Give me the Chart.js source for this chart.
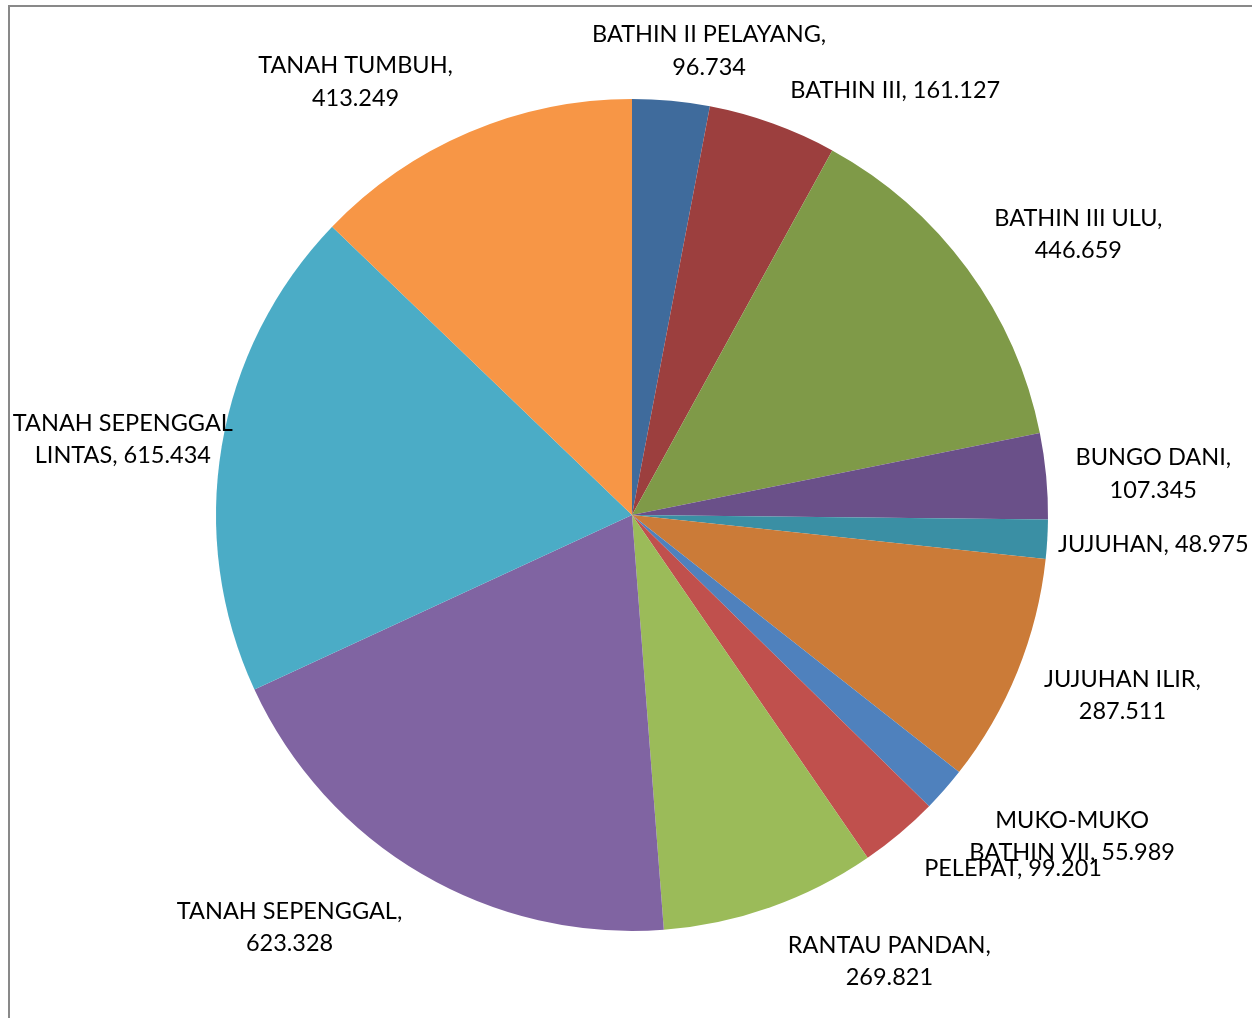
<!DOCTYPE html>
<html>
<head>
<meta charset="utf-8">
<title>Pie chart</title>
<script src="https://cdn.jsdelivr.net/npm/chart.js@4.4.0/dist/chart.umd.js"></script>
<style>
    html, body { margin: 0; padding: 0; background: #fff; overflow: hidden; }
    canvas { display: block; }
</style>
</head>
<body>
<canvas id="pie" width="1252" height="1018"></canvas>
<script>
// data
const categories = [
    'BATHIN II PELAYANG', 'BATHIN III', 'BATHIN III ULU', 'BUNGO DANI',
    'JUJUHAN', 'JUJUHAN ILIR', 'MUKO-MUKO BATHIN VII', 'PELEPAT',
    'RANTAU PANDAN', 'TANAH SEPENGGAL', 'TANAH SEPENGGAL LINTAS', 'TANAH TUMBUH'
];
const values = [
    96.734, 161.127, 446.659, 107.345,
    48.975, 287.511, 55.989, 99.201,
    269.821, 623.328, 615.434, 413.249
];
const valueLabels = [
    '96.734', '161.127', '446.659', '107.345',
    '48.975', '287.511', '55.989', '99.201',
    '269.821', '623.328', '615.434', '413.249'
];

// slice colours (Excel 2007 palette, dark shades first)
const sliceColors = [
    '#3F6B9C', '#9C3F3E', '#7F9A48', '#6A5089', '#3A8FA4', '#CB7B38',
    '#4F81BD', '#C0504D', '#9BBB59', '#8064A2', '#4BACC6', '#F79646'
];

// label layout: how each label is broken into lines, plus a nudge
// (angle shift in degrees, distance from centre) off the slice's mid angle
const labelLines = [
    ['BATHIN II PELAYANG,', '96.734'],
    ['BATHIN III, 161.127'],
    ['BATHIN III ULU,', '446.659'],
    ['BUNGO DANI,', '107.345'],
    ['JUJUHAN, 48.975'],
    ['JUJUHAN ILIR,', '287.511'],
    ['MUKO-MUKO', 'BATHIN VII, 55.989'],
    ['PELEPAT, 99.201'],
    ['RANTAU PANDAN,', '269.821'],
    ['TANAH SEPENGGAL,', '623.328'],
    ['TANAH SEPENGGAL', 'LINTAS, 615.434'],
    ['TANAH TUMBUH,', '413.249']
];
const labelNudge = [
    [4.0, 472], [11.9, 501], [4.0, 528], [0.7, 523],
    [-0.3, 522], [-2.1, 522], [-5.3, 544], [-7.2, 519],
    [-10.6, 514], [9.4, 535], [-0.9, 515], [-9.4, 515]
];

const FONT = '23.5px Lato';
const LINE_H = 32.5;

// frame line on top/left like the original export
const framePlugin = {
    id: 'frame',
    beforeDraw(chart) {
        const ctx = chart.ctx;
        ctx.save();
        ctx.strokeStyle = '#898989';
        ctx.lineWidth = 2;
        ctx.beginPath();
        ctx.moveTo(9, chart.height + 2);
        ctx.lineTo(9, 6);
        ctx.lineTo(chart.width + 2, 6);
        ctx.stroke();
        ctx.restore();
    }
};

const labelPlugin = {
    id: 'sliceLabels',
    afterDatasetsDraw(chart) {
        const ctx = chart.ctx;
        const arcs = chart.getDatasetMeta(0).data;
        ctx.save();
        ctx.font = FONT;
        ctx.fillStyle = '#000';
        ctx.textAlign = 'center';
        ctx.textBaseline = 'middle';
        arcs.forEach((arc, i) => {
            const p = arc.getProps(['x', 'y', 'startAngle', 'endAngle'], true);
            const mid = (p.startAngle + p.endAngle) / 2 + labelNudge[i][0] * Math.PI / 180;
            const cx = p.x + Math.cos(mid) * labelNudge[i][1];
            const cy = p.y + Math.sin(mid) * labelNudge[i][1] + 1.5;
            const lines = labelLines[i];
            const top = cy - (lines.length - 1) * LINE_H / 2;
            lines.forEach((t, k) => ctx.fillText(t, cx, top + k * LINE_H));
        });
        ctx.restore();
    }
};

new Chart(document.getElementById('pie'), {
    type: 'pie',
    data: {
        labels: categories,
        datasets: [{
            data: values,
            backgroundColor: sliceColors,
            borderWidth: 0
        }]
    },
    options: {
        responsive: false,
        animation: false,
        layout: { padding: { left: 216, right: 204, top: 99, bottom: 87 } },
        plugins: {
            legend: { display: false },
            tooltip: { enabled: false }
        }
    },
    plugins: [framePlugin, labelPlugin]
});
</script>
</body>
</html>
